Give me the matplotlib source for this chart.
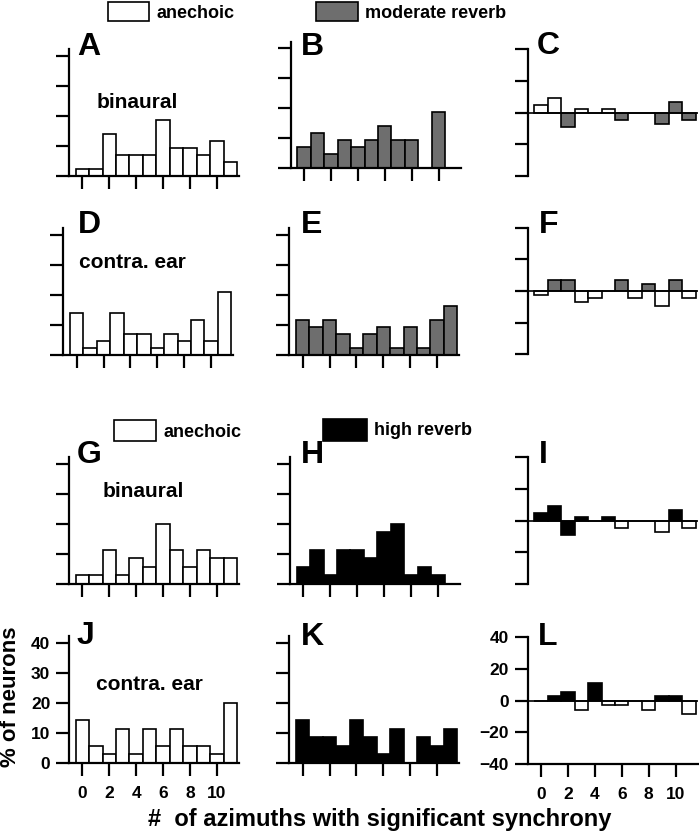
import matplotlib
matplotlib.use("Agg")
import matplotlib.pyplot as plt
from matplotlib.patches import Rectangle

plt.rcParams['font.family'] = ['Liberation Sans', 'DejaVu Sans']
plt.rcParams['font.weight'] = 'bold'

# --- Data: % of neurons per number of azimuths ---
azimuths = list(range(12))
xtick_vals = [0, 2, 4, 6, 8, 10]

# moderate reverb set (top two rows)
anech_bin_mod = [2.3, 2.3, 14.0, 7.0, 7.0, 7.0, 18.6, 9.3, 9.3, 7.0, 11.6, 4.7]
reverb_bin_mod = [7.0, 11.6, 4.7, 9.3, 7.0, 9.3, 14.0, 9.3, 9.3, 0, 18.6, 0]
diff_bin_mod = [4.7, 9.3, -9.3, 2.3, 0, 2.3, -4.7, 0, 0, -7.0, 7.0, -4.7]
anech_con_mod = [14.0, 2.3, 4.7, 14.0, 7.0, 7.0, 2.3, 7.0, 4.7, 11.6, 4.7, 20.9]
reverb_con_mod = [11.6, 9.3, 11.6, 7.0, 2.3, 7.0, 9.3, 2.3, 9.3, 2.3, 11.6, 16.3]
diff_con_mod = [-2.3, 7.0, 7.0, -7.0, -4.7, 0, 7.0, -4.7, 4.7, -9.3, 7.0, -4.7]

# high reverb set (bottom two rows)
anech_bin_high = [2.9, 2.9, 11.4, 2.9, 8.6, 5.7, 20.0, 11.4, 5.7, 11.4, 8.6, 8.6]
reverb_bin_high = [5.7, 11.4, 2.9, 11.4, 11.4, 8.6, 17.1, 20.0, 2.9, 5.7, 2.9, 0]
diff_bin_high = [4.7, 9.3, -9.3, 2.3, 0, 2.3, -4.7, 0, 0, -7.0, 7.0, -4.7]
anech_con_high = [14.3, 5.7, 2.9, 11.4, 2.9, 11.4, 5.7, 11.4, 5.7, 5.7, 2.9, 20.0]
reverb_con_high = [14.3, 8.6, 8.6, 5.7, 14.3, 8.6, 2.9, 11.4, 0, 8.6, 5.7, 11.4]
diff_con_high = [0, 2.9, 5.7, -5.7, 11.4, -2.9, -2.9, 0, -5.7, 2.9, 2.9, -8.6]

# fill of each difference bar (w = white, g = gray, k = black)
codes_C = ['w', 'w', 'g', 'w', 'w', 'w', 'g', 'w', 'w', 'g', 'g', 'g']
codes_F = ['w', 'g', 'g', 'w', 'w', 'w', 'g', 'w', 'g', 'w', 'g', 'w']
codes_I = ['k', 'k', 'k', 'k', 'w', 'k', 'w', 'w', 'w', 'w', 'k', 'w']
codes_L = ['w', 'k', 'k', 'w', 'k', 'w', 'w', 'w', 'w', 'k', 'k', 'w']

GRAY = '#6e6e6e'
fill = {'w': 'white', 'g': GRAY, 'k': 'black'}

W, H = 699, 834
fig = plt.figure(figsize=(W / 100, H / 100), dpi=100)


def fx(x):
    return x / W


def fy(y):
    return 1 - y / H


def style_axes(ax, labels):
    for side in ['top', 'right']:
        ax.spines[side].set_visible(False)
    for side in ['left', 'bottom']:
        ax.spines[side].set_linewidth(1.6)
    ax.tick_params(direction='out', length=9.5, width=1.6, labelsize=12.5,
                   labelleft=labels, labelbottom=labels)
    ax.tick_params(axis='x', pad=7)
    ax.tick_params(axis='y', pad=4)


# --- Histogram panel ---
def hist_panel(x_spine, y_bottom, values, color, labels=False):
    ax = fig.add_axes([fx(x_spine), fy(y_bottom), fx(170), 126.6 / H])
    ax.bar(azimuths, values, width=1, color=color, edgecolor='black', linewidth=1.2)
    ax.set_xlim(-1, 11.65)
    ax.set_ylim(0, 42.2)
    ax.set_xticks(xtick_vals)
    ax.set_yticks([0, 10, 20, 30, 40])
    style_axes(ax, labels)
    return ax


# --- Difference panel ---
def diff_panel(x_spine, y_bottom, values, codes, labels=False):
    ax = fig.add_axes([fx(x_spine), fy(y_bottom), fx(170), 126.7 / H])
    ax.bar(azimuths, values, width=1, color=[fill[c] for c in codes],
           edgecolor='black', linewidth=1.2)
    ax.axhline(0, color='black', linewidth=1.2)
    ax.set_xlim(-1, 11.65)
    ax.set_ylim(-40, 40)
    ax.set_yticks([-40, -20, 0, 20, 40])
    style_axes(ax, labels)
    if labels:
        ax.set_xticks(xtick_vals)
    else:
        ax.spines['bottom'].set_visible(False)
        ax.set_xticks([])
    return ax


hist_panel(69, 175.7, anech_bin_mod, 'white')
hist_panel(290.7, 168.3, reverb_bin_mod, GRAY)
diff_panel(527.7, 176, diff_bin_mod, codes_C)

hist_panel(63.3, 354.7, anech_con_mod, 'white')
hist_panel(289.3, 354.7, reverb_con_mod, GRAY)
diff_panel(527.7, 354.3, diff_con_mod, codes_F)

hist_panel(69, 583.7, anech_bin_high, 'white')
hist_panel(290, 583.7, reverb_bin_high, 'black')
diff_panel(527.7, 584, diff_bin_high, codes_I)

hist_panel(69, 762.7, anech_con_high, 'white', labels=True)
hist_panel(289.3, 762.7, reverb_con_high, 'black')
diff_panel(527.7, 764, diff_con_high, codes_L, labels=True)

# --- Panel letters ---
letters = ['A', 'B', 'C', 'D', 'E', 'F', 'G', 'H', 'I', 'J', 'K', 'L']
letter_x = [77, 300.7, 537, 77.7, 300.7, 539, 77, 300.7, 539, 77, 300.7, 538]
letter_y = [55, 55, 54, 233.3, 233, 233, 463, 463.3, 462.7, 644, 645, 645]
for t, x, y in zip(letters, letter_x, letter_y):
    fig.text(fx(x), fy(y), t, fontsize=23, ha='left', va='baseline')

# --- Condition labels ---
fig.text(fx(96.7), fy(108.3), 'binaural', fontsize=15, va='baseline')
fig.text(fx(79), fy(268.3), 'contra. ear', fontsize=15, va='baseline')
fig.text(fx(102.3), fy(496.7), 'binaural', fontsize=15, va='baseline')
fig.text(fx(96), fy(690), 'contra. ear', fontsize=15, va='baseline')


# --- Legend boxes ---
def legend_box(x, y_top, w, h, color, label, baseline):
    fig.add_artist(Rectangle((fx(x), fy(y_top + h)), fx(w), h / H,
                             transform=fig.transFigure, facecolor=color,
                             edgecolor='black', linewidth=1.2))
    fig.text(fx(x + w + 7), fy(baseline), label, fontsize=13, va='baseline')


legend_box(107.7, 1.5, 41.6, 19.5, 'white', 'anechoic', 18.3)
legend_box(316, 1.5, 42.3, 19.5, GRAY, 'moderate reverb', 18.3)
legend_box(114, 420, 42, 20.7, 'white', 'anechoic', 436.7)
legend_box(323.3, 419, 43.4, 21.7, 'black', 'high reverb', 435)

# --- Axis labels ---
fig.text(fx(0.5), fy(697), '% of neurons', fontsize=16, rotation=90,
         ha='left', va='center')
fig.text(fx(380), fy(826), '#  of azimuths with significant synchrony',
         fontsize=17, ha='center', va='baseline')

fig.savefig('out.png', dpi=100)
